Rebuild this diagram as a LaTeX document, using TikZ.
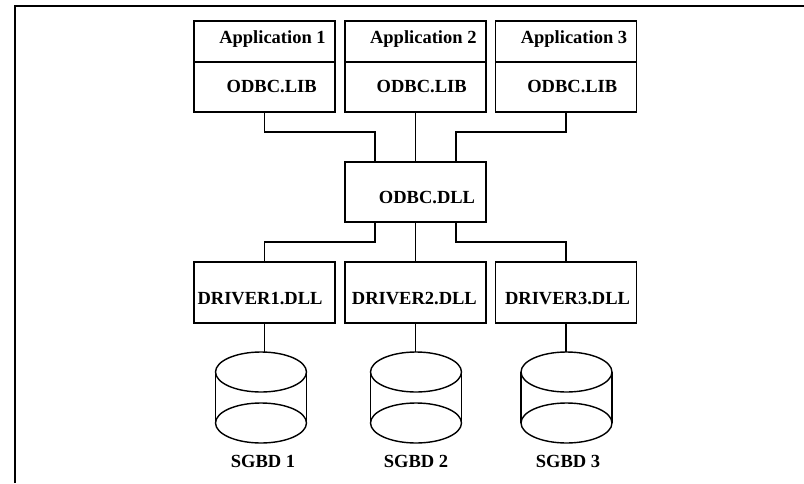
\documentclass[tikz,border=0pt]{standalone}
\usepackage{fontspec}
\setmainfont{Liberation Serif}
\begin{document}
\begin{tikzpicture}[x=1pt,y=-1pt,
  box/.style={draw, line width=1.4pt, inner sep=0pt, outer sep=0pt, minimum width=141pt},
  lbl/.style={font=\fontsize{18.5}{20}\selectfont\bfseries, inner sep=0pt, anchor=base},
  wire/.style={line width=1.4pt},
  frameline/.style={line width=2.2pt},
  cyl/.style={line width=1.4pt}]
\useasboundingbox (0,0) rectangle (804,483);
% frame
\draw[frameline] (15,483) -- (15,6) -- (804,6);
% application boxes
\node[box, minimum height=41pt] (a1) at (264.5,41.5) {};
\node[box, minimum height=50pt] (l1) at (264.5,87) {};
\node[box, minimum height=41pt] (a2) at (415.5,41.5) {};
\node[box, minimum height=50pt] (l2) at (415.5,87) {};
\node[box, minimum height=41pt] (a3) at (566,41.5) {};
\node[box, minimum height=50pt] (l3) at (566,87) {};
\node[lbl] (ta1) at (272.5,43) {Application 1};
\node[lbl] (ta2) at (423.3,43) {Application 2};
\node[lbl] (ta3) at (574,43) {Application 3};
\node[lbl] (tl1) at (271.7,92) {ODBC.LIB};
\node[lbl] (tl2) at (421.7,92) {ODBC.LIB};
\node[lbl] (tl3) at (572.3,92) {ODBC.LIB};
% ODBC.DLL
\node[box, minimum height=60pt] (dll) at (415.5,192) {};
\node[lbl] (tdll) at (427,203) {ODBC.DLL};
% drivers
\node[box, minimum height=61pt] (d1) at (264.5,292.5) {};
\node[box, minimum height=61pt] (d2) at (415.5,292.5) {};
\node[box, minimum height=61pt] (d3) at (566,292.5) {};
\node[lbl] (td1) at (260,304) {DRIVER1.DLL};
\node[lbl] (td2) at (414.4,304) {DRIVER2.DLL};
\node[lbl] (td3) at (567.5,304) {DRIVER3.DLL};
% connectors top
\draw[wire] (l1.south) -- ++(0,20) -| ([xshift=-40.5pt]dll.north);
\draw[wire] (l2.south) -- (dll.north);
\draw[wire] (l3.south) -- ++(0,20) -| ([xshift=40.5pt]dll.north);
% connectors bottom
\draw[wire] ([xshift=-40.5pt]dll.south) -- ++(0,20) -| (d1.north);
\draw[wire] (dll.south) -- (d2.north);
\draw[wire] ([xshift=40.5pt]dll.south) -- ++(0,20) -| (d3.north);
% cylinders
\foreach \n/\cx in {1/261, 2/416, 3/566.5}{
  \coordinate (c\n) at (\cx,352);
  \draw[cyl] (\cx,372) ellipse [x radius=45.5pt, y radius=20pt];
  \draw[cyl] (\cx,423) ellipse [x radius=45.5pt, y radius=20pt];
  \draw[cyl] (\cx-45.5,372) -- (\cx-45.5,423);
  \draw[cyl] (\cx+45.5,372) -- (\cx+45.5,423);
}
\draw[wire] (d1.south) -- (d1.south |- c1);
\draw[wire] (d2.south) -- (d2.south |- c2);
\draw[wire] (d3.south) -- (d3.south |- c3);
\node[lbl] (s1) at (263,467) {SGBD 1};
\node[lbl] (s2) at (416,467) {SGBD 2};
\node[lbl] (s3) at (568,467) {SGBD 3};
\end{tikzpicture}
\end{document}
